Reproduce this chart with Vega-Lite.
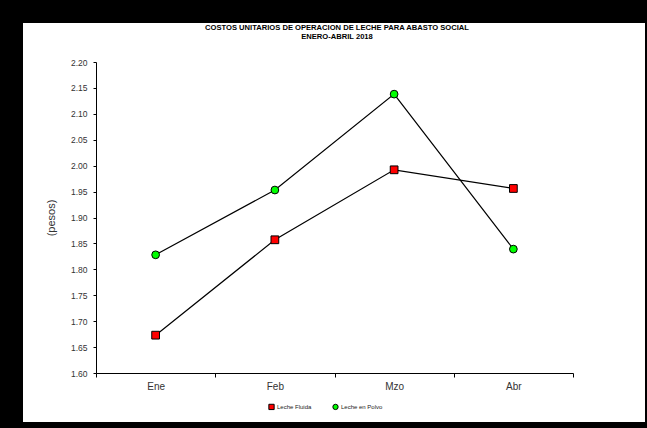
{
  "$schema": "https://vega.github.io/schema/vega-lite/v6.json",
  "width": 622,
  "height": 399,
  "autosize": {"type": "none"},
  "padding": {"left": 23, "top": 23, "right": 2, "bottom": 6},
  "background": "black",
  "config": {"view": {"fill": "white", "stroke": null}, "font": "Liberation Sans"},
  "title": {
    "text": ["COSTOS UNITARIOS DE OPERACION DE LECHE PARA ABASTO SOCIAL", "ENERO-ABRIL 2018"],
    "fontSize": 7.6,
    "fontWeight": "bold",
    "font": "Liberation Sans",
    "lineHeight": 9,
    "offset": -18,
    "color": "black",
    "anchor": "middle",
    "dx": 3
  },
  "data": {
    "values": [
      {"mes": "Ene", "serie": "Leche Fluida", "valor": 1.673},
      {"mes": "Feb", "serie": "Leche Fluida", "valor": 1.857},
      {"mes": "Mzo", "serie": "Leche Fluida", "valor": 1.992},
      {"mes": "Abr", "serie": "Leche Fluida", "valor": 1.956},
      {"mes": "Ene", "serie": "Leche en Polvo", "valor": 1.828},
      {"mes": "Feb", "serie": "Leche en Polvo", "valor": 1.953},
      {"mes": "Mzo", "serie": "Leche en Polvo", "valor": 2.138},
      {"mes": "Abr", "serie": "Leche en Polvo", "valor": 1.839}
    ]
  },
  "encoding": {
    "x": {
      "field": "mes",
      "type": "ordinal",
      "sort": ["Ene", "Feb", "Mzo", "Abr"],
      "bandPosition": 0.5,
      "scale": {"type": "band", "range": [73, 550], "paddingInner": 0, "paddingOuter": 0},
      "axis": {
        "title": null,
        "labelAngle": 0,
        "tickBand": "extent",
        "offset": -49,
        "domainColor": "black",
        "tickColor": "black",
        "tickSize": 4,
        "labelFontSize": 10,
        "labelColor": "#333333",
        "labelPadding": 4,
        "grid": false
      }
    },
    "y": {
      "field": "valor",
      "type": "quantitative",
      "scale": {"domain": [1.6, 2.2], "nice": false, "zero": false, "range": [350, 39]},
      "axis": {
        "title": "(pesos)",
        "values": [1.6, 1.65, 1.7, 1.75, 1.8, 1.85, 1.9, 1.95, 2.0, 2.05, 2.1, 2.15, 2.2],
        "format": ".2f",
        "offset": -73,
        "tickSize": 3,
        "tickColor": "black",
        "domainColor": "black",
        "labelPadding": 6,
        "labelFontSize": 8.5,
        "labelColor": "#333333",
        "titleFontSize": 11,
        "titleFontWeight": "normal",
        "titleColor": "#333333",
        "titlePadding": 14,
        "grid": false
      }
    }
  },
  "layer": [
    {
      "mark": {"type": "line", "color": "black", "strokeWidth": 1.2},
      "encoding": {"detail": {"field": "serie"}}
    },
    {
      "mark": {"type": "point", "filled": true, "stroke": "black", "strokeWidth": 1, "size": 60, "opacity": 1},
      "encoding": {
        "color": {
          "field": "serie",
          "type": "nominal",
          "scale": {"domain": ["Leche Fluida", "Leche en Polvo"], "range": ["#ff0000", "#00ff00"]},
          "legend": {
            "title": null,
            "orient": "none",
            "legendX": 245,
            "legendY": 380,
            "direction": "horizontal",
            "labelFontSize": 6,
            "labelFont": "Liberation Sans",
            "labelColor": "#222222",
            "symbolSize": 28,
            "columnPadding": 18,
            "labelOffset": 2,
            "padding": 0,
            "symbolStrokeColor": "black",
            "symbolStrokeWidth": 1
          }
        },
        "shape": {
          "field": "serie",
          "type": "nominal",
          "scale": {"domain": ["Leche Fluida", "Leche en Polvo"], "range": ["square", "circle"]}
        }
      }
    }
  ]
}
